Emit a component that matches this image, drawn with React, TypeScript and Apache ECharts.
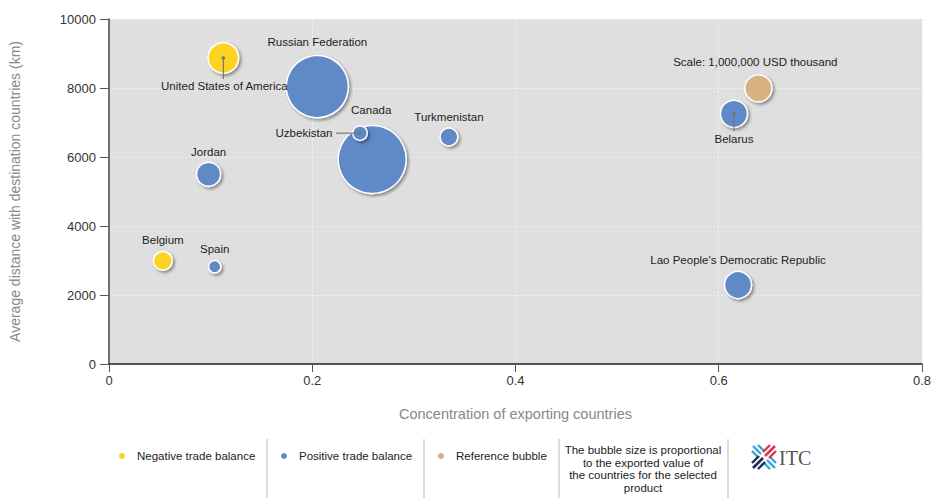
import React, { useEffect, useRef } from "react";
import * as echarts from "echarts";

// ---- data ----
const negNames = ["United States of America", "Belgium"];
const negX = [0.1125, 0.053];
const negY = [8870, 2990];
const negValue = [1280000, 480000];

const posNames = [
  "Russian Federation",
  "Canada",
  "Uzbekistan",
  "Jordan",
  "Turkmenistan",
  "Belarus",
  "Spain",
  "Lao People's Democratic Republic",
];
const posX = [0.205, 0.259, 0.247, 0.098, 0.3345, 0.615, 0.104, 0.619];
const posY = [8040, 5930, 6690, 5500, 6580, 7250, 2820, 2290];
const posValue = [5290000, 6340000, 284000, 790000, 430000, 1000000, 210000, 1000000];

const refNames = ["Scale: 1,000,000 USD thousand"];
const refX = [0.639];
const refY = [7990];
const refValue = [1000000];

const xTicks = [0, 0.2, 0.4, 0.6, 0.8];
const yTicks = [0, 2000, 4000, 6000, 8000, 10000];

// ---- styling (label placement relative to bubble centre, px) ----
const labelOffsets: Record<string, [number, number]> = {
  "United States of America": [1, 28],
  Belgium: [0, -21],
  "Russian Federation": [0, -45],
  Canada: [-1, -49],
  Uzbekistan: [-56, 0],
  Jordan: [0, -22],
  Turkmenistan: [0, -20],
  Belarus: [0, 25],
  Spain: [0, -18],
  "Lao People's Democratic Republic": [0, -25],
  "Scale: 1,000,000 USD thousand": [-3, -26],
};
const leaderOffsets: Record<string, [number, number]> = {
  "United States of America": [0, 21],
  Uzbekistan: [-24, 0],
  Belarus: [0, 17],
};

const FONT = "'Liberation Sans', Arial, sans-serif";
const C_NEG = "#FDD323";
const C_POS = "#6089C7";
const C_REF = "#D9B07F";

function buildData(names: string[], xs: number[], ys: number[], vs: number[]) {
  return names.map((n, i) => ({
    name: n,
    value: [xs[i], ys[i], vs[i]],
    label: { offset: labelOffsets[n] || [0, 0] },
  }));
}

const itemStyleFor = (color: string) => ({
  color,
  opacity: 1,
  borderColor: "#ffffff",
  borderWidth: 1.5,
  shadowColor: "rgba(0,0,0,0.38)",
  shadowBlur: 3,
  shadowOffsetX: 2,
  shadowOffsetY: 2,
});

const labelCommon = {
  show: true,
  position: "inside",
  formatter: "{b}",
  color: "#222",
  fontSize: 11.5,
  fontFamily: FONT,
};

const sizeFn = (v: number[]) => 27 * Math.sqrt(v[2] / 1000000);

export default function App() {
  const ref = useRef<HTMLDivElement>(null);
  useEffect(() => {
    document.body.style.margin = "0";
    const chart = echarts.init(ref.current!, null, { renderer: "svg" });

    const leaderData = [
      ...negNames.map((n, i) => ({ name: n, value: [negX[i], negY[i]] })),
      ...posNames.map((n, i) => ({ name: n, value: [posX[i], posY[i]] })),
    ].filter((d) => leaderOffsets[d.name]);

    const legendBase = {
      orient: "horizontal",
      top: 445,
      itemWidth: 20,
      itemHeight: 8,
      icon: "circle",
      textStyle: { color: "#222", fontSize: 11.5, fontFamily: FONT },
    };

    const separatorXs = [267, 424, 559, 728];

    const option: any = {
      animation: false,
      textStyle: { fontFamily: FONT },
      grid: {
        left: 107,
        top: 19,
        right: 8,
        height: 345,
        show: true,
        backgroundColor: "#dfdfdf",
        borderWidth: 0,
      },
      xAxis: {
        type: "value",
        min: xTicks[0],
        max: xTicks[xTicks.length - 1],
        interval: 0.2,
        name: "Concentration of exporting countries",
        nameLocation: "middle",
        nameGap: 42,
        nameTextStyle: { color: "#888", fontSize: 14.5, fontFamily: FONT },
        axisLine: { show: true, lineStyle: { color: "#222", width: 1.5 } },
        axisTick: { show: true, length: 8, lineStyle: { color: "#555" } },
        axisLabel: { color: "#333", fontSize: 13, margin: 10, fontFamily: FONT, formatter: (v: number) => String(v) },
        splitLine: { show: true, lineStyle: { color: "#f0f0f0", type: [2, 2], width: 1 } },
      },
      yAxis: {
        type: "value",
        min: yTicks[0],
        max: yTicks[yTicks.length - 1],
        interval: 2000,
        name: "Average distance with destination countries (km)",
        nameLocation: "middle",
        nameRotate: 90,
        nameGap: 87,
        nameTextStyle: { color: "#888", fontSize: 14, fontFamily: FONT },
        axisLine: { show: true, lineStyle: { color: "#444", width: 1.5 } },
        axisTick: { show: true, length: 9, lineStyle: { color: "#555" } },
        axisLabel: { color: "#333", fontSize: 13, margin: 13, fontFamily: FONT, formatter: (v: number) => String(v) },
        splitLine: { show: true, lineStyle: { color: "#f0f0f0", type: [2, 2], width: 1 } },
      },
      legend: [
        { ...legendBase, left: 112, data: ["Negative trade balance"] },
        { ...legendBase, left: 274, data: ["Positive trade balance"] },
        { ...legendBase, left: 431, data: ["Reference bubble"] },
      ],
      series: [
        {
          name: "Negative trade balance",
          type: "scatter",
          data: buildData(negNames, negX, negY, negValue),
          symbolSize: sizeFn,
          itemStyle: itemStyleFor(C_NEG),
          label: labelCommon,
          z: 3,
        },
        {
          name: "Positive trade balance",
          type: "scatter",
          data: buildData(posNames, posX, posY, posValue),
          symbolSize: sizeFn,
          itemStyle: itemStyleFor(C_POS),
          label: labelCommon,
          z: 3,
        },
        {
          name: "Reference bubble",
          type: "scatter",
          data: buildData(refNames, refX, refY, refValue),
          symbolSize: sizeFn,
          itemStyle: itemStyleFor(C_REF),
          label: labelCommon,
          z: 3,
        },
        {
          name: "leaders",
          type: "custom",
          z: 4,
          silent: true,
          data: leaderData,
          renderItem: (params: any, api: any) => {
            const p = api.coord([api.value(0), api.value(1)]);
            const nm = leaderData[params.dataIndex].name;
            const off = leaderOffsets[nm];
            return {
              type: "group",
              children: [
                {
                  type: "line",
                  shape: { x1: p[0], y1: p[1], x2: p[0] + off[0], y2: p[1] + off[1] },
                  style: { stroke: "#777", lineWidth: 1.2 },
                },
                {
                  type: "circle",
                  shape: { cx: p[0], cy: p[1], r: 1.8 },
                  style: { fill: "#777" },
                },
              ],
            };
          },
        },
      ],
      graphic: [
        ...separatorXs.map((x) => ({
          type: "line",
          shape: { x1: x, y1: 439, x2: x, y2: 498 },
          style: { stroke: "#bbb", lineWidth: 1 },
        })),
        {
          type: "text",
          x: 643,
          y: 444,
          style: {
            text:
              "The bubble size is proportional\nto the exported value of\nthe countries for the selected\nproduct",
            textAlign: "center",
            fill: "#222",
            fontSize: 11.5,
            lineHeight: 12.5,
            fontFamily: FONT,
          },
        },
        // ITC logo mark
        {
          type: "group",
          x: 764,
          y: 457,
          children: [
            { type: "line", shape: { x1: -11, y1: -11, x2: -3, y2: -3 }, style: { stroke: "#3aa3d9", lineWidth: 2.4 } },
            { type: "line", shape: { x1: -12, y1: -6, x2: -6, y2: 0 }, style: { stroke: "#3aa3d9", lineWidth: 2.4 } },
            { type: "line", shape: { x1: -6, y1: -12, x2: 0, y2: -6 }, style: { stroke: "#3aa3d9", lineWidth: 2.4 } },
            { type: "line", shape: { x1: 3, y1: 3, x2: 11, y2: 11 }, style: { stroke: "#3aa3d9", lineWidth: 2.4 } },
            { type: "line", shape: { x1: 6, y1: 0, x2: 12, y2: 6 }, style: { stroke: "#3aa3d9", lineWidth: 2.4 } },
            { type: "line", shape: { x1: 0, y1: 6, x2: 6, y2: 12 }, style: { stroke: "#3aa3d9", lineWidth: 2.4 } },
            { type: "line", shape: { x1: 11, y1: -11, x2: 1, y2: -1 }, style: { stroke: "#e0344c", lineWidth: 2.6 } },
            { type: "line", shape: { x1: 6, y1: -12, x2: -1, y2: -5 }, style: { stroke: "#e0344c", lineWidth: 2.4 } },
            { type: "line", shape: { x1: 12, y1: -6, x2: 5, y2: 1 }, style: { stroke: "#e0344c", lineWidth: 2.4 } },
            { type: "line", shape: { x1: -11, y1: 11, x2: -1, y2: 1 }, style: { stroke: "#1e2d4d", lineWidth: 2.6 } },
            { type: "line", shape: { x1: -12, y1: 6, x2: -5, y2: -1 }, style: { stroke: "#1e2d4d", lineWidth: 2.4 } },
            { type: "line", shape: { x1: -6, y1: 12, x2: 1, y2: 5 }, style: { stroke: "#1e2d4d", lineWidth: 2.4 } },
          ],
        },
        {
          type: "text",
          x: 779,
          y: 458,
          style: {
            text: "ITC",
            fill: "#555",
            fontSize: 20,
            fontFamily: "'Liberation Serif', 'DejaVu Serif', serif",
            textVerticalAlign: "middle",
          },
        },
      ],
    };

    chart.setOption(option);
    return () => chart.dispose();
  }, []);

  return <div ref={ref} style={{ width: 934, height: 498 }} />;
}
